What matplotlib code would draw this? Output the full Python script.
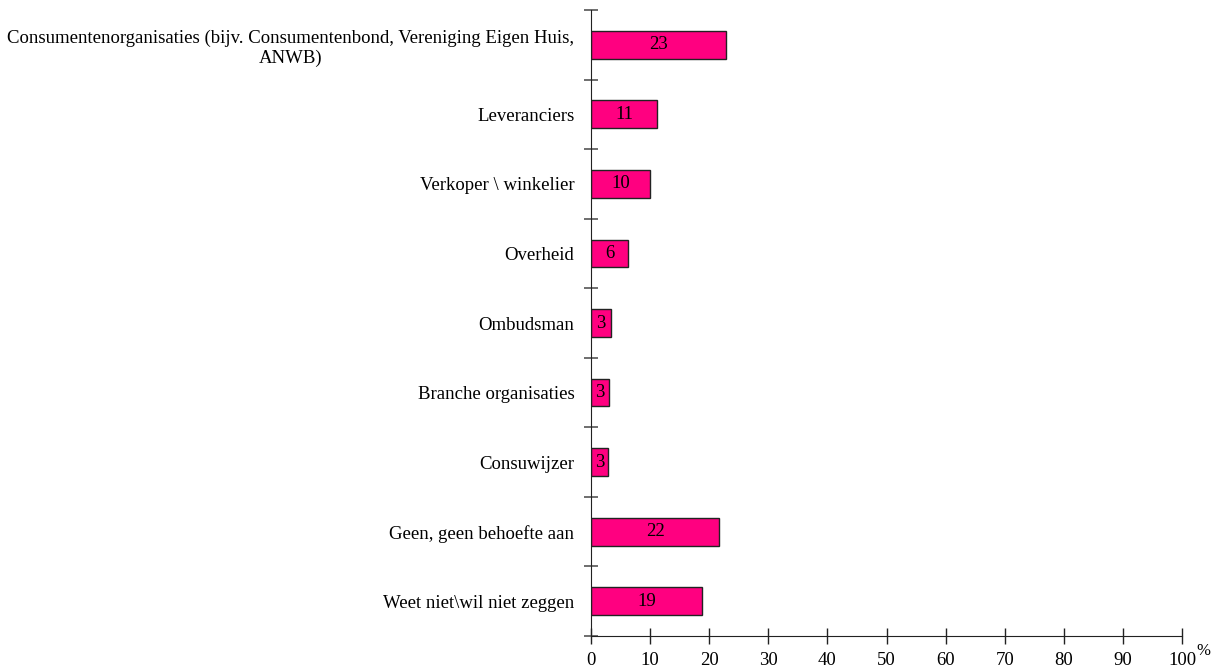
import matplotlib
matplotlib.use("Agg")
from matplotlib import pyplot as plt
import numpy as np

categories = [
    "Consumentenorganisaties (bijv. Consumentenbond, Vereniging Eigen Huis,\nANWB)",
    "Leveranciers",
    "Verkoper \\ winkelier",
    "Overheid",
    "Ombudsman",
    "Branche organisaties",
    "Consuwijzer",
    "Geen, geen behoefte aan",
    "Weet niet\\wil niet zeggen",
]
values = [22.8, 11.2, 10.0, 6.3, 3.4, 3.0, 2.9, 21.7, 18.8]
value_labels = ["23", "11", "10", "6", "3", "3", "3", "22", "19"]
x_ticks = [0, 10, 20, 30, 40, 50, 60, 70, 80, 90, 100]

plt.rcParams['font.family'] = ['Liberation Serif', 'DejaVu Serif']
plt.rcParams['font.size'] = 13.5

fig = plt.figure(figsize=(12.26, 6.72), dpi=100)
ax = fig.add_axes([591 / 1226, 1 - 636 / 672, (1182 - 591) / 1226, (636 - 10) / 672])

n = len(categories)
y = np.arange(n)
bars = ax.barh(y, values, height=0.4, color='#ff0080', edgecolor='#222222', linewidth=1.0)
for rect, lab in zip(bars, value_labels):
    ax.text(rect.get_width() / 2, rect.get_y() + rect.get_height() / 2, lab,
            ha='center', va='center', fontsize=13.5)

ax.set_xlim(0, 100)
ax.set_ylim(n - 0.5, -0.5)
ax.set_xticks(x_ticks)
ax.set_xticklabels([str(t) for t in x_ticks])
ax.set_yticks(y)
ax.set_yticklabels(categories, multialignment='center')
ax.set_yticks(np.arange(n + 1) - 0.5, minor=True)

ax.tick_params(axis='y', which='major', length=0, pad=12)
ax.tick_params(axis='y', which='minor', direction='inout', length=10, width=1.2, color='#555555')
ax.tick_params(axis='x', direction='inout', length=11, width=1.0, color='#222222', pad=6)

for s in ['top', 'right']:
    ax.spines[s].set_visible(False)
ax.spines['left'].set_color('#222222')
ax.spines['bottom'].set_color('#222222')

fig.text(1196 / 1226, 1 - 651 / 672, "%", fontsize=12, ha='left', va='center')

fig.savefig("out.png", dpi=100)
